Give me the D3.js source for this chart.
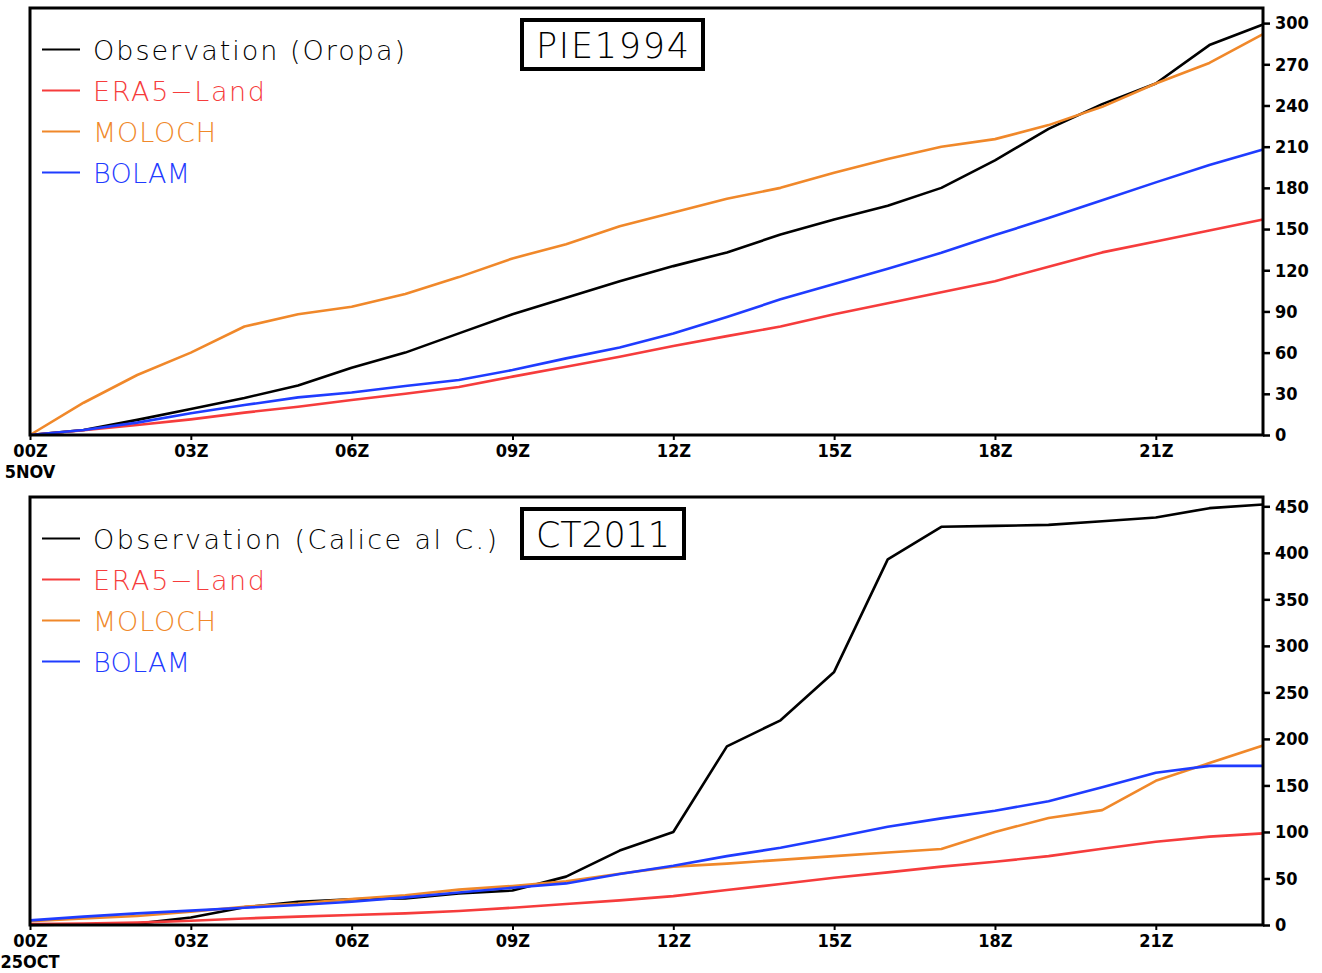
<!DOCTYPE html>
<html>
<head>
<meta charset="utf-8">
<script src="https://cdn.jsdelivr.net/npm/d3@7"></script>
<style>
body{margin:0;background:#fff;}
.axislbl text{font-family:"DejaVu Sans Condensed","Liberation Sans Narrow",sans-serif;font-weight:bold;font-size:18px;fill:#000;}
.legend{font-family:"DejaVu Sans","Liberation Sans",sans-serif;font-weight:200;}
</style>
</head>
<body>
<svg id="chart"></svg>
<script>
// hours of the day (x axis)
var hours = [0,1,2,3,4,5,6,7,8,9,10,11,12,13,14,15,16,17,18,19,20,21,22,23];
var xTickHours = [0,3,6,9,12,15,18,21];
var xTickLabels = ["00Z","03Z","06Z","09Z","12Z","15Z","18Z","21Z"];

var seriesNames = ["Observation","ERA5\u2212Land","MOLOCH","BOLAM"];

// PIE1994 - 5 Nov
var pieObs    = [0,3.6,11,19,27,36,49,60,74,88,100,112,123,133,146,157,167,180,200,223,241,256,284,299];
var pieEra5   = [0,3.5,7.3,11.4,16.3,20.6,25.5,30,35,42.5,49.7,57,64.8,72,79,88,96,104,112,122.6,133,141,149,157];
var pieMoloch = [0,23.5,43.7,60,79,88,93.4,102.7,115,128.6,139,152,162,172,180,191,201,210,215.5,225.7,239,256,271,292];
var pieBolam  = [0,3.6,9,15.8,21.8,27.4,31,35.7,40,47.3,55.8,63.8,74,86,98.8,110,121,132.7,145.6,158,171,184,196.6,208];
var pieYTicks = [0,30,60,90,120,150,180,210,240,270,300];

// CT2011 - 25 Oct
var ctObs    = [0,0.5,1.5,8,19,25,27.6,28.6,34,37,52,80,100,192,220,272,393,428,429,430,434,438,448,452];
var ctEra5   = [1,1.5,2.5,4.5,7,9,10.7,12.5,15,18.6,22.5,26.5,31,37.6,44,50.8,56.6,62.7,68,74,82,89.5,95,98.5];
var ctMoloch = [4,7,9.7,14.3,19.7,23,28,32,38,42,47,55,62.7,66,70,74,78,81.6,100,115,123.5,155,174,193];
var ctBolam  = [5,9,12.5,15.4,18.6,21.5,25,29.7,35,40,44.7,54.8,63.7,74,83,94,105.6,114.6,122.8,133,148,163.6,171,171];
var ctYTicks = [0,50,100,150,200,250,300,350,400,450];

var colors = ["#000000","#f63c3c","#f0882a","#1f3cff"];

var width = 1322, height = 973;
var margin = {left:30, right:59};

var svg = d3.select("#chart")
    .attr("width", width)
    .attr("height", height);

var x = d3.scaleLinear()
    .domain([0,23])
    .range([margin.left, width-margin.right]);

function drawPanel(p){
    var g = svg.append("g");

    var y = d3.scaleLinear()
        .domain([0,p.yMax])
        .range([p.bottom, p.top]);

    // x axis
    g.append("g")
        .attr("class","axislbl")
        .attr("transform","translate(0,"+p.bottom+")")
        .call(d3.axisBottom(x)
            .tickValues(xTickHours)
            .tickFormat(function(d,i){return xTickLabels[i];})
            .tickSize(5)
            .tickPadding(4))
        .call(function(a){a.select(".domain").remove();})
        .selectAll("line").attr("stroke","#000").attr("stroke-width",2);

    g.append("text")
        .attr("class","lbl")
        .attr("x", x(0))
        .attr("y", p.bottom+43)
        .attr("text-anchor","middle")
        .style("font-family",'"DejaVu Sans Condensed","Liberation Sans Narrow",sans-serif')
        .style("font-weight","bold")
        .style("font-size","18px")
        .text(p.dateLabel);

    // y axis on the right
    g.append("g")
        .attr("class","axislbl")
        .attr("transform","translate("+x(23)+",0)")
        .call(d3.axisRight(y)
            .tickValues(p.yTicks)
            .tickSize(7)
            .tickPadding(5))
        .call(function(a){a.select(".domain").remove();})
        .selectAll("line").attr("stroke","#000").attr("stroke-width",2.5);

    // lines
    var line = d3.line()
        .x(function(d,i){return x(hours[i]);})
        .y(function(d){return y(d);});

    p.series.forEach(function(s,k){
        g.append("path")
            .attr("d", line(s))
            .attr("fill","none")
            .attr("stroke", colors[k])
            .attr("stroke-width",2.6)
            .attr("stroke-linejoin","round");
    });

    // frame
    g.append("rect")
        .attr("x", x(0))
        .attr("y", p.top)
        .attr("width", x(23)-x(0))
        .attr("height", p.bottom-p.top)
        .attr("fill","none")
        .attr("stroke","#000")
        .attr("stroke-width",3);

    // legend
    p.legend.forEach(function(t,k){
        var ly = p.top+41.5+41*k;
        g.append("line")
            .attr("x1",42).attr("x2",80)
            .attr("y1",ly).attr("y2",ly)
            .attr("stroke",colors[k])
            .attr("stroke-width",2);
        g.append("text")
            .attr("class","legend")
            .attr("x",93)
            .attr("y",ly+10)
            .attr("font-size","27px")
            .attr("fill",colors[k])
            .attr("textLength",p.legendLen[k])
            .attr("lengthAdjust","spacing")
            .text(t);
    });

    // title box
    g.append("rect")
        .attr("x",522)
        .attr("y",p.top+12)
        .attr("width",p.boxW)
        .attr("height",49)
        .attr("fill","#fff")
        .attr("stroke","#000")
        .attr("stroke-width",4);

    g.append("text")
        .attr("class","legend")
        .attr("x",522+p.boxW/2)
        .attr("y",p.top+50)
        .attr("text-anchor","middle")
        .attr("font-size","35px")
        .attr("fill","#000")
        .attr("textLength",p.boxW-28)
        .attr("lengthAdjust","spacing")
        .text(p.title);
}

drawPanel({
    top:8, bottom:435, yMax:311, yTicks:pieYTicks,
    series:[pieObs,pieEra5,pieMoloch,pieBolam],
    legend:["Observation (Oropa)"].concat(seriesNames.slice(1)),
    legendLen:[312,172,123,97],
    title:"PIE1994", boxW:181, dateLabel:"5NOV"
});

drawPanel({
    top:497, bottom:925, yMax:460, yTicks:ctYTicks,
    series:[ctObs,ctEra5,ctMoloch,ctBolam],
    legend:["Observation (Calice al C.)"].concat(seriesNames.slice(1)),
    legendLen:[404,172,123,97],
    title:"CT2011", boxW:162, dateLabel:"25OCT"
});
</script>
</body>
</html>
